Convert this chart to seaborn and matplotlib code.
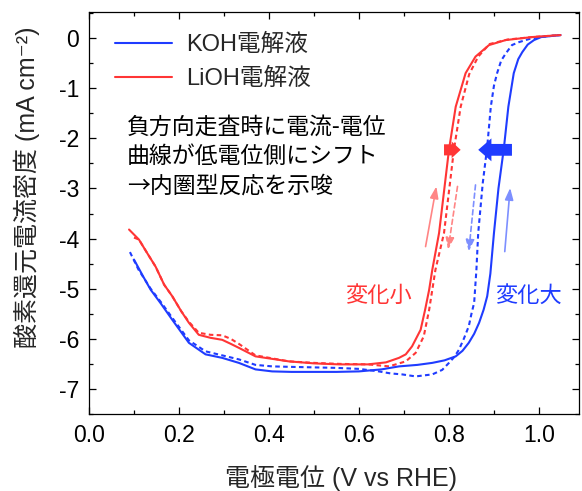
import numpy as np
import pandas as pd
import matplotlib
matplotlib.use("Agg")
import matplotlib.pyplot as plt
import seaborn as sns

# ---------------- data ----------------
koh_fwd_x = [0.100, 0.120, 0.137, 0.160, 0.185, 0.222, 0.259, 0.296, 0.333, 0.370, 0.407, 0.450,
             0.500, 0.550, 0.600, 0.650, 0.689, 0.730, 0.763, 0.790, 0.815, 0.830, 0.844, 0.856,
             0.867, 0.877, 0.885, 0.892, 0.900, 0.910, 0.922, 0.932, 0.944, 0.954, 0.963, 0.975,
             0.989, 1.005, 1.048]
koh_fwd_y = [-4.42, -4.75, -5.02, -5.30, -5.62, -6.08, -6.31, -6.38, -6.48, -6.61, -6.65, -6.66,
             -6.66, -6.66, -6.65, -6.61, -6.55, -6.52, -6.48, -6.43, -6.35, -6.24, -6.08, -5.90,
             -5.68, -5.42, -5.15, -4.70, -3.89, -3.00, -2.20, -1.37, -0.70, -0.42, -0.28, -0.13,
             -0.04, 0.02, 0.06]

koh_rev_x = [0.091, 0.110, 0.137, 0.160, 0.185, 0.222, 0.259, 0.296, 0.333, 0.370, 0.407, 0.450,
             0.500, 0.550, 0.600, 0.644, 0.670, 0.696, 0.726, 0.763, 0.785, 0.800, 0.812, 0.822,
             0.833, 0.844, 0.850, 0.856, 0.861, 0.865, 0.875, 0.885, 0.893, 0.900, 0.907, 0.916,
             0.926, 0.940, 0.956, 0.978, 1.000, 1.048]
koh_rev_y = [-4.27, -4.62, -5.00, -5.27, -5.58, -6.03, -6.25, -6.33, -6.41, -6.52, -6.55, -6.56,
             -6.57, -6.58, -6.60, -6.65, -6.69, -6.71, -6.75, -6.71, -6.62, -6.48, -6.36, -6.22,
             -6.00, -5.75, -5.50, -5.28, -4.62, -3.89, -2.90, -2.17, -1.37, -0.95, -0.70, -0.45,
             -0.31, -0.14, -0.08, -0.02, 0.02, 0.06]

lioh_fwd_x = [0.089, 0.111, 0.130, 0.148, 0.167, 0.185, 0.205, 0.222, 0.244, 0.270, 0.296, 0.315,
              0.333, 0.370, 0.444, 0.500, 0.556, 0.620, 0.660, 0.689, 0.704, 0.718, 0.737, 0.747,
              0.756, 0.763, 0.778, 0.800, 0.815, 0.837, 0.859, 0.889, 0.926, 0.985, 1.048]
lioh_fwd_y = [-3.82, -4.02, -4.30, -4.56, -4.92, -5.15, -5.45, -5.68, -5.92, -5.98, -6.02, -6.10,
              -6.18, -6.35, -6.45, -6.49, -6.51, -6.51, -6.47, -6.38, -6.31, -6.15, -5.82, -5.42,
              -5.02, -4.62, -3.89, -2.23, -1.37, -0.70, -0.37, -0.14, -0.04, 0.02, 0.06]

lioh_rev_x = [0.100, 0.111, 0.130, 0.148, 0.167, 0.185, 0.205, 0.222, 0.244, 0.270, 0.296, 0.315,
              0.333, 0.370, 0.444, 0.500, 0.556, 0.620, 0.667, 0.704, 0.726, 0.744, 0.756, 0.770,
              0.789, 0.811, 0.826, 0.845, 0.865, 0.890, 0.930, 0.985, 1.048]
lioh_rev_y = [-3.98, -4.02, -4.30, -4.56, -4.92, -5.15, -5.45, -5.66, -5.88, -5.92, -5.93, -6.00,
              -6.10, -6.33, -6.45, -6.48, -6.50, -6.51, -6.55, -6.45, -6.28, -5.95, -5.42, -4.62,
              -3.89, -2.23, -1.37, -0.72, -0.37, -0.12, -0.03, 0.02, 0.06]

legend_labels = ["KOH電解液", "LiOH電解液"]
note_text = "負方向走査時に電流-電位\n曲線が低電位側にシフト\n→内圏型反応を示唆"
small_label = "変化小"
large_label = "変化大"
x_label = "電極電位 (V vs RHE)"
y_label = "酸素還元電流密度 (mA cm⁻²)"
x_ticks = [0.0, 0.2, 0.4, 0.6, 0.8, 1.0]
y_ticks = [0, -1, -2, -3, -4, -5, -6, -7]

# arrows: (start, end) in data coords
thick_red = ((0.789, -2.23), (0.826, -2.23))
thick_blue = ((0.940, -2.23), (0.865, -2.23))
thin_red_up = ((0.748, -4.16), (0.772, -2.96))
thin_red_down = ((0.819, -2.96), (0.798, -4.22))
thin_blue_down = ((0.859, -2.93), (0.844, -4.26))
thin_blue_up = ((0.924, -4.26), (0.936, -2.99))

# ---------------- style ----------------
sns.set_theme(style="ticks")
plt.rcParams["font.family"] = ["Liberation Sans", "Noto Sans CJK JP", "DejaVu Sans"]
plt.rcParams["axes.unicode_minus"] = False

BLUE = "#1f3cff"
RED = "#ff3535"
LBLUE = "#7d8fff"
LRED = "#ff8585"

fig = plt.figure(figsize=(5.82, 4.91), dpi=100)
ax = fig.add_axes([89 / 582, 1 - 414 / 491, 490 / 582, 402 / 491])

dash = (0, (2.2, 1.6))
sns.lineplot(x=koh_rev_x, y=koh_rev_y, ax=ax, color=BLUE, lw=1.5, linestyle=dash, sort=False, estimator=None)
sns.lineplot(x=lioh_rev_x, y=lioh_rev_y, ax=ax, color=RED, lw=1.5, linestyle=dash, sort=False, estimator=None)
sns.lineplot(x=koh_fwd_x, y=koh_fwd_y, ax=ax, color=BLUE, lw=1.5, sort=False, estimator=None, label=legend_labels[0])
sns.lineplot(x=lioh_fwd_x, y=lioh_fwd_y, ax=ax, color=RED, lw=1.5, sort=False, estimator=None, label=legend_labels[1])

ax.set_xlim(0.0, 1.089)
ax.set_ylim(-7.5, 0.52)
ax.set_xticks(x_ticks)
ax.set_xticklabels([f"{v:.1f}" for v in x_ticks])
ax.set_yticks(y_ticks)
ax.set_yticklabels([str(v) for v in y_ticks])
ax.xaxis.set_minor_locator(matplotlib.ticker.MultipleLocator(0.1))
ax.yaxis.set_minor_locator(matplotlib.ticker.MultipleLocator(0.5))
ax.tick_params(which="both", direction="in", top=True, right=True, colors="black", width=0.9)
ax.tick_params(which="major", length=5, labelsize=16.5, pad=7)
ax.tick_params(which="minor", length=3)
for s in ax.spines.values():
    s.set_linewidth(0.9)
    s.set_color("black")
    s.set_visible(True)

ax.set_xlabel(x_label, fontsize=18)
ax.set_ylabel(y_label, fontsize=18)
ax.xaxis.set_label_coords(0.514, -0.126)
ax.yaxis.set_label_coords(-0.100, 0.565)

leg = ax.legend(loc="upper left", bbox_to_anchor=(0.053, 0.945), frameon=False, fontsize=17,
                handlelength=2.4, handletextpad=0.6, borderpad=0, borderaxespad=0, labelspacing=0.5)

ax.text(0.084, -1.55, note_text, fontsize=16.5, ha="left", va="top", linespacing=1.35, color="black",
        family=["Noto Sans CJK JP", "DejaVu Sans"])
ax.text(0.644, -5.16, small_label, fontsize=16, ha="center", va="center", color=RED)
ax.text(0.976, -5.16, large_label, fontsize=16, ha="center", va="center", color=BLUE)

def thick(seg, color, hl, hw, tw):
    ax.annotate("", xy=seg[1], xytext=seg[0], xycoords="data", textcoords="data",
                arrowprops=dict(arrowstyle=f"simple,head_length={hl},head_width={hw},tail_width={tw}",
                                mutation_scale=1, color=color, shrinkA=0, shrinkB=0, lw=0))

def thin(seg, color, ls):
    ax.annotate("", xy=seg[1], xytext=seg[0], xycoords="data", textcoords="data",
                arrowprops=dict(arrowstyle="-|>,head_length=0.5,head_width=0.18", mutation_scale=14,
                                color=color, lw=1.2, linestyle=ls, shrinkA=0, shrinkB=0))

thick(thick_red, RED, 6.5, 12, 8)
thick(thick_blue, BLUE, 9.5, 16.5, 8.5)
thin(thin_red_up, LRED, "-")
thin(thin_red_down, LRED, (0, (3, 2)))
thin(thin_blue_down, LBLUE, (0, (3, 2)))
thin(thin_blue_up, LBLUE, "-")

fig.savefig("out.png", dpi=100)
